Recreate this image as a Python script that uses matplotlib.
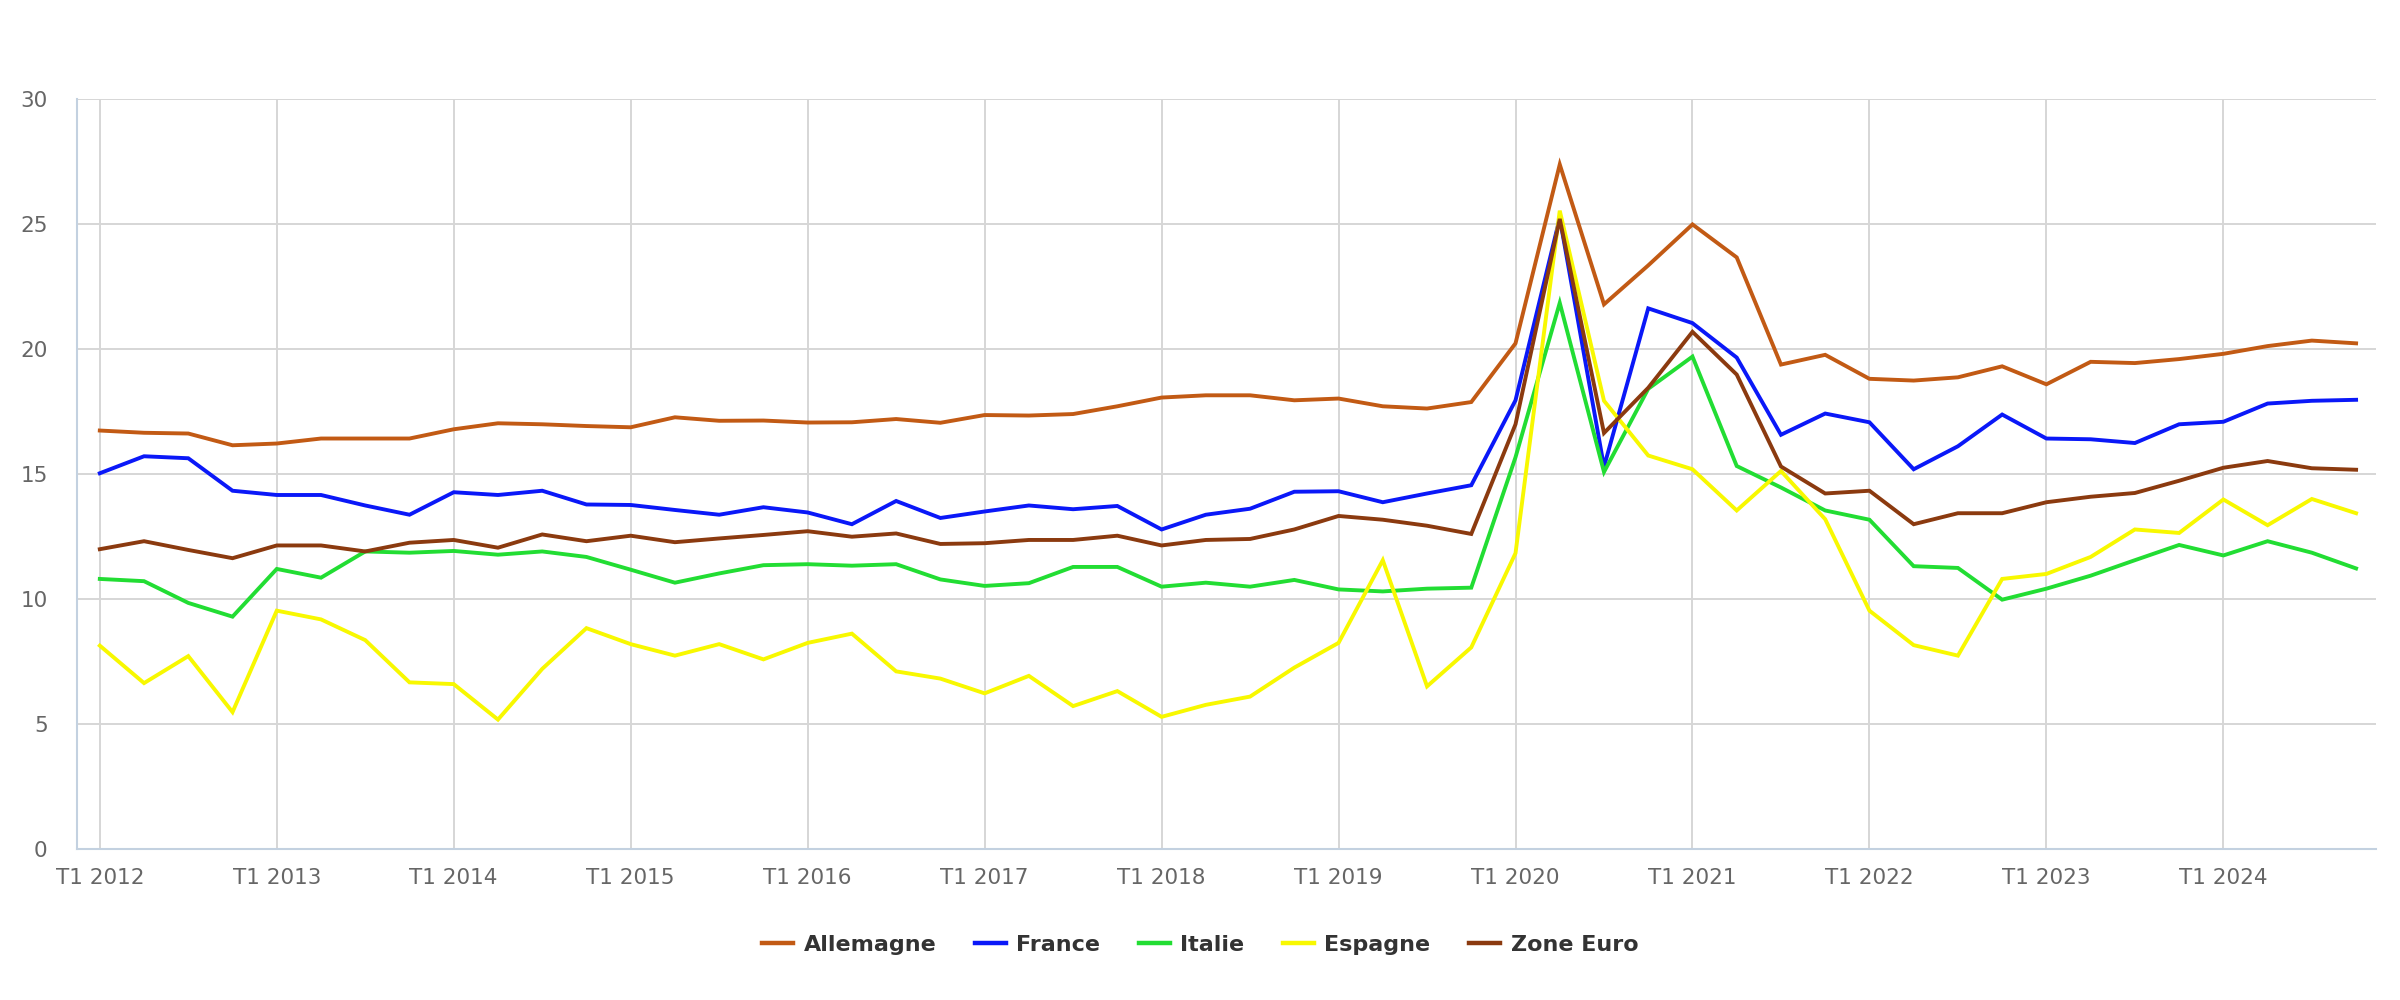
import matplotlib.pyplot as plt
import numpy as np

# quarterly series, T1 2012 -> T4 2024
years = list(range(2012, 2025))
quarters = [f"T{q} {y}" for y in years for q in range(1, 5)]

allemagne = [16.75, 16.66, 16.63, 16.16, 16.23, 16.43, 16.43, 16.43, 16.80, 17.04, 17.00, 16.93, 16.88, 17.28, 17.14, 17.15,
             17.07, 17.08, 17.21, 17.06, 17.37, 17.35, 17.41, 17.72, 18.07, 18.16, 18.16, 17.96, 18.03, 17.72, 17.63, 17.89,
             20.24, 27.40, 21.80, 23.36, 25.00, 23.68, 19.39, 19.78, 18.82, 18.75, 18.88, 19.32, 18.60, 19.50, 19.45, 19.61,
             19.82, 20.13, 20.35, 20.24]
france = [15.04, 15.72, 15.64, 14.34, 14.17, 14.17, 13.75, 13.38, 14.28, 14.17, 14.34, 13.79, 13.77, 13.57, 13.38, 13.68,
          13.47, 13.00, 13.93, 13.25, 13.51, 13.75, 13.60, 13.73, 12.79, 13.38, 13.62, 14.30, 14.32, 13.88, 14.23, 14.56,
          17.96, 25.26, 15.30, 21.64, 21.05, 19.67, 16.58, 17.43, 17.08, 15.20, 16.12, 17.39, 16.43, 16.40, 16.25, 17.00,
          17.10, 17.83, 17.94, 17.98]
italie = [10.81, 10.72, 9.85, 9.30, 11.21, 10.86, 11.91, 11.86, 11.93, 11.78, 11.91, 11.69, 11.18, 10.66, 11.03, 11.36,
          11.40, 11.34, 11.40, 10.79, 10.53, 10.64, 11.29, 11.29, 10.50, 10.66, 10.50, 10.77, 10.39, 10.31, 10.42, 10.46,
          15.68, 21.86, 15.09, 18.42, 19.71, 15.33, 14.47, 13.55, 13.18, 11.32, 11.25, 9.98, 10.42, 10.94, 11.56, 12.17,
          11.75, 12.32, 11.86, 11.23]
espagne = [8.14, 6.64, 7.72, 5.48, 9.54, 9.19, 8.36, 6.67, 6.60, 5.18, 7.21, 8.84, 8.20, 7.74, 8.20, 7.59,
           8.25, 8.62, 7.11, 6.82, 6.23, 6.93, 5.72, 6.32, 5.29, 5.77, 6.10, 7.26, 8.25, 11.56, 6.51, 8.07,
           11.84, 25.55, 17.94, 15.75, 15.20, 13.55, 15.13, 13.20, 9.54, 8.16, 7.74, 10.81, 11.01, 11.69, 12.79, 12.65,
           13.99, 12.96, 14.01, 13.44]
zone_euro = [12.00, 12.32, 11.97, 11.64, 12.15, 12.15, 11.91, 12.26, 12.37, 12.06, 12.59, 12.32, 12.54, 12.28, 12.43, 12.57,
             12.72, 12.50, 12.63, 12.21, 12.24, 12.37, 12.37, 12.54, 12.15, 12.37, 12.41, 12.79, 13.33, 13.18, 12.94, 12.61,
             17.00, 25.22, 16.65, 18.46, 20.70, 18.99, 15.31, 14.23, 14.34, 13.00, 13.44, 13.44, 13.88, 14.10, 14.25, 14.74,
             15.26, 15.53, 15.24, 15.18]

series = [
    ("Allemagne", allemagne, "#c25a14"),
    ("France", france, "#0a18f8"),
    ("Italie", italie, "#22dd33"),
    ("Espagne", espagne, "#f8f800"),
    ("Zone Euro", zone_euro, "#8b3a0f"),
]

fig = plt.figure(figsize=(24, 10), dpi=100, facecolor='white')
ax = fig.add_axes([0.032, 0.151, 0.958, 0.7495])

x = np.arange(len(quarters))
for name, vals, col in series:
    ax.plot(x, vals, color=col, lw=2.8, label=name, solid_joinstyle='miter', zorder=3)

ax.set_xlim(-0.52, len(quarters) - 1 + 0.45)
ax.set_ylim(0, 30)
ax.set_yticks(range(0, 31, 5))
xt = x[::4]
ax.set_xticks(xt)
ax.set_xticklabels([quarters[i] for i in xt])

# grid
for v in range(5, 31, 5):
    ax.axhline(v, color='#d6d6d6', lw=1.4, zorder=1)
for i in xt:
    ax.plot([i, i], [0, 30], color='#d6d6d6', lw=1.4, zorder=1)

for s in ['top', 'right']:
    ax.spines[s].set_visible(False)
for s in ['left', 'bottom']:
    ax.spines[s].set_color('#c3d1e0')
    ax.spines[s].set_linewidth(1.5)

ax.tick_params(axis='both', length=0, labelsize=15.5, labelcolor='#666666')
ax.tick_params(axis='y', pad=21)
ax.tick_params(axis='x', pad=14)

leg = fig.legend(loc='center', bbox_to_anchor=(0.5, 0.055), ncol=5, frameon=False,
                 handlelength=1.4, handletextpad=0.48, columnspacing=1.72,
                 prop={'family': 'DejaVu Sans', 'weight': 'bold', 'size': 16})
for t in leg.get_texts():
    t.set_color('#333333')
for h in leg.get_lines():
    h.set_linewidth(3.2)

fig.savefig('out.png', dpi=100, facecolor='white')
